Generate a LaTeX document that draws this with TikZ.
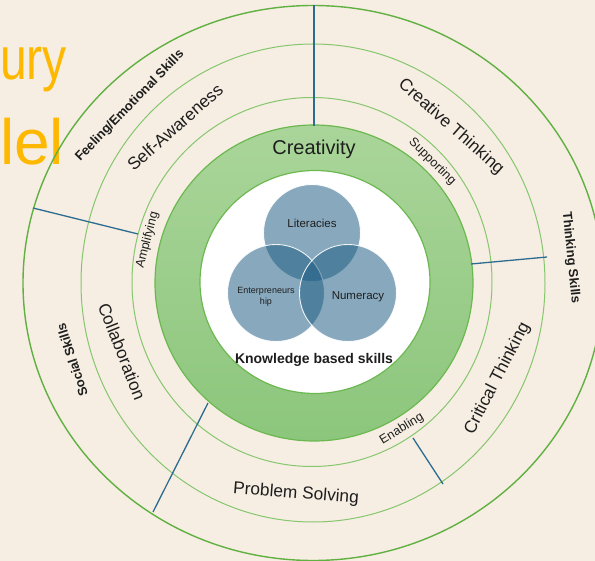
\documentclass[tikz,border=0pt]{standalone}
\usepackage{fontspec}
\setmainfont{Liberation Sans}
\definecolor{bgc}{RGB}{246,238,226}
\definecolor{gouter}{RGB}{96,176,66}
\definecolor{gmid}{RGB}{134,198,110}
\definecolor{ringtop}{RGB}{170,213,154}
\definecolor{ringbot}{RGB}{140,198,124}
\definecolor{ringedge}{RGB}{108,184,80}
\definecolor{venncol}{RGB}{28,92,130}
\definecolor{linkblue}{RGB}{44,108,145}
\definecolor{ink}{RGB}{30,30,30}
\definecolor{titleorange}{RGB}{255,184,0}
\tikzset{
  outerring/.style={draw=gouter, line width=1.4pt},
  midring/.style={draw=gmid, line width=1pt},
  venn/.style={circle, minimum size=97pt, inner sep=0pt, fill=venncol, fill opacity=0.52, draw=white, draw opacity=0.9, line width=0.9pt},
  conn/.style={draw=linkblue, line width=1.3pt},
  bandtxt/.style={font=\fontsize{17.3}{20}\selectfont, text=ink, inner sep=0pt},
  outertxt/.style={font=\bfseries\fontsize{13}{15}\selectfont, text=ink, inner sep=0pt},
  smalltxt/.style={font=\fontsize{12.5}{15}\selectfont, text=ink, inner sep=0pt},
  venntxt/.style={font=\fontsize{11.5}{13}\selectfont, text=ink, inner sep=0pt},
  titletxt/.style={text=titleorange, inner sep=0pt, anchor=base west}
}
\begin{document}
\begin{tikzpicture}[x=1pt,y=-1pt]
\useasboundingbox (0,0) rectangle (595,561);
\begin{scope}
\clip (0,0) rectangle (595,561);
\fill[bgc] (0,0) rectangle (595,561);
% partial slide title
\node[titletxt, font=\fontsize{60}{60}\selectfont, xscale=0.8] (tA) at (0,80) {ury};
\node[titletxt, font=\fontsize{64}{64}\selectfont] (tB) at (0,165) {lel};
% rings
\draw[outerring] (313,283) ellipse [x radius=290pt, y radius=277.5pt];
\draw[midring] (313,283) ellipse [x radius=232pt, y radius=239pt];
\draw[midring] (312,282) ellipse [x radius=180pt, y radius=184.5pt];
% green ring
\shade[top color=ringtop, bottom color=ringbot, draw=ringedge, line width=1.2pt] (314,283) ellipse [x radius=159pt, y radius=158pt];
\filldraw[fill=white, draw=ringedge, line width=1.2pt] (315,282) ellipse [x radius=115pt, y radius=111.5pt];
% venn
\node[venn] (lit) at (312,233) {};
\node[venn] (ent) at (276,293) {};
\node[venn] (num) at (348,293) {};
\node[venntxt] (litL) at (312,223) {Literacies};
\node[venntxt] (numL) at (358,297) {Numeracy};
\node[font=\fontsize{9}{10.5}\selectfont, text=ink, inner sep=0pt, align=center] (entL) at (266,297) {Enterpreneurs\\hip};
\node[font=\bfseries\fontsize{14}{16}\selectfont, text=ink, inner sep=0pt] (kbs) at (314,360) {Knowledge based skills};
\node[font=\fontsize{20}{22}\selectfont, text=ink, inner sep=0pt] (crea) at (314,149) {Creativity};
% connector coordinates
\coordinate (t1) at (314,5);   \coordinate (t2) at (314,126);
\coordinate (l1) at (33,208);  \coordinate (l2) at (138,234);
\coordinate (r1) at (471,264); \coordinate (r2) at (547,257);
\coordinate (b1) at (208,403); \coordinate (b2) at (153,512);
\coordinate (e1) at (413,438); \coordinate (e2) at (443,484);
\draw[conn] (t1) -- (t2);
\draw[conn] (l1) -- (l2);
\draw[conn] (r1) -- (r2);
\draw[conn] (b1) -- (b2);
\draw[conn] (e1) -- (e2);
% outer band labels
\node[outertxt, rotate=45.8] (fes) at (130,106) {Feeling/Emotional Skills};
\node[outertxt, rotate=-84.2] (ths) at (570.7,257.5) {Thinking Skills};
\node[outertxt, rotate=107.8] (sos) at (72,360) {Social Skills};
% middle band labels
\node[bandtxt, rotate=41.5] (saw) at (175,127) {Self-Awareness};
\node[bandtxt, rotate=-41.5] (crt) at (451,127) {Creative Thinking};
\node[bandtxt, rotate=-68.5] (col) at (122,351.4) {Collaboration};
\node[bandtxt, rotate=-4.6] (prs) at (296,494) {Problem Solving};
\node[bandtxt, rotate=62.7] (cri) at (497.5,378.4) {Critical Thinking};
% inner band labels
\node[smalltxt, rotate=75.5] (amp) at (147.5,240.2) {Amplifying};
\node[smalltxt, rotate=-44.5] (sup) at (432.2,161.7) {Supporting};
\node[smalltxt, rotate=31.3] (ena) at (401.8,429.1) {Enabling};
\end{scope}
\end{tikzpicture}
\end{document}
